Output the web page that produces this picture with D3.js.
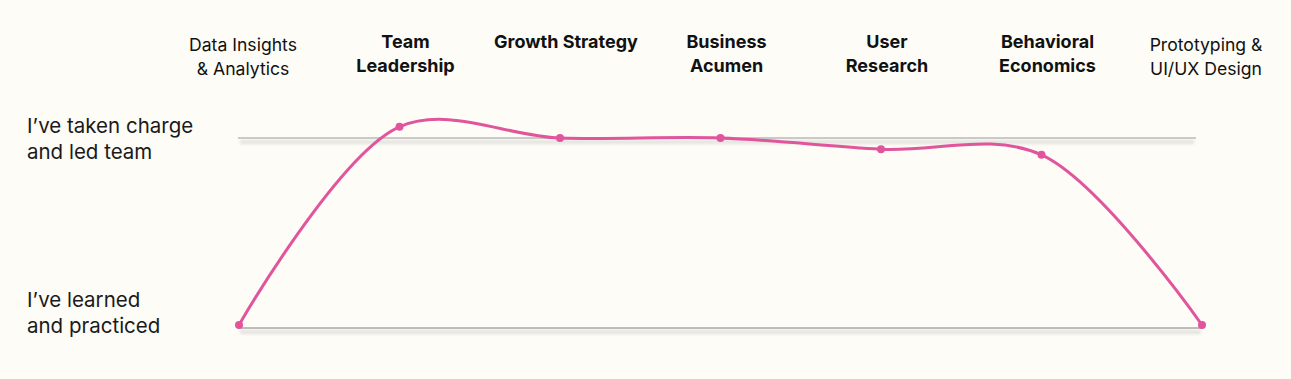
<!DOCTYPE html>
<html>
<head>
<meta charset="utf-8">
<script src="https://cdn.jsdelivr.net/npm/d3@7/dist/d3.min.js"></script>
<style>
  html, body { margin: 0; padding: 0; background: #fdfcf7; }
  svg { display: block; font-family: Inter, "Noto Sans", sans-serif; }
</style>
</head>
<body>
<div id="container"></div>
<script>
// skills along the path
const skills = [
    ["Data Insights", "& Analytics"],
    ["Team", "Leadership"],
    ["Growth Strategy"],
    ["Business", "Acumen"],
    ["User", "Research"],
    ["Behavioral", "Economics"],
    ["Prototyping &", "UI/UX Design"]
]
const boldSkill = [false, true, true, true, true, true, false]
// 0 = learned and practiced, 1 = taken charge and led team
const level = [0, 1.06, 1.0, 1.0, 0.94, 0.91, 0]
const levelLabels = [
    {value: 1, lines: ["I\u2019ve taken charge", "and led team"]},
    {value: 0, lines: ["I\u2019ve learned", "and practiced"]}
]

main()

function main() {
    const width = 1291
    const height = 379

    const x = d3.scalePoint()
        .domain(d3.range(skills.length))
        .range([239, 1202])

    const y = d3.scaleLinear()
        .domain([0, 1])
        .range([325, 138])

    const svg = d3.create("svg")
        .attr("width", width)
        .attr("height", height)

    // soft blur for the shadow under the guide lines
    svg.append("defs").append("filter")
        .attr("id", "blur")
        .attr("filterUnits", "userSpaceOnUse")
        .attr("x", 0).attr("y", 0).attr("width", width).attr("height", height)
        .append("feGaussianBlur")
        .attr("stdDeviation", 1.8)

    const guides = [
        {y: y(1), x2: 1196, color: "#999999", w: 1},
        {y: y(0) + 3, x2: 1203, color: "#a8a8a8", w: 1.5}
    ]
    guides.forEach((g) => {
        svg.append("line")
            .attr("x1", 240).attr("x2", g.x2 - 2)
            .attr("y1", g.y + 4).attr("y2", g.y + 4)
            .attr("stroke", "#000").attr("stroke-opacity", 0.1)
            .attr("stroke-width", 4)
            .attr("filter", "url(#blur)")
        svg.append("line")
            .attr("x1", 238).attr("x2", g.x2)
            .attr("y1", g.y).attr("y2", g.y)
            .attr("stroke", g.color).attr("stroke-width", g.w)
    })

    // level labels on the left
    levelLabels.forEach((d, k) => {
        const t = svg.append("text")
            .attr("x", 27)
            .attr("y", y(d.value) + (k === 0 ? -5 : -18))
            .attr("font-size", 20.5)
            .attr("fill", "#1a1a1a")
        d.lines.forEach((line, i) => {
            t.append("tspan")
                .attr("x", 27)
                .attr("dy", i === 0 ? 0 : 25.5)
                .text(line)
        })
    })

    // skill labels on top (sit a little right of their points)
    skills.forEach((lines, i) => {
        const lx = x(i) + (boldSkill[i] ? 6 : 4)
        const t = svg.append("text")
            .attr("x", lx)
            .attr("y", boldSkill[i] ? 48 : 51)
            .attr("text-anchor", "middle")
            .attr("font-size", boldSkill[i] ? 18 : 17.6)
            .attr("font-weight", boldSkill[i] ? 700 : 400)
            .attr("fill", "#111")
        lines.forEach((line, j) => {
            t.append("tspan")
                .attr("x", lx)
                .attr("dy", j === 0 ? 0 : 24)
                .text(line)
        })
    })

    const data = level.map((v, i) => ({index: i, value: v}))

    const line = d3.line()
        .x(d => x(d.index))
        .y(d => y(d.value))
        .curve(d3.curveCatmullRom.alpha(0.5))

    svg.append("path")
        .datum(data)
        .attr("fill", "none")
        .attr("stroke", "#e0559b")
        .attr("stroke-width", 3)
        .attr("d", line)

    svg.selectAll("circle")
        .data(data)
        .enter()
        .append("circle")
        .attr("cx", d => x(d.index))
        .attr("cy", d => y(d.value))
        .attr("r", 4)
        .attr("fill", "#e0559b")

    container.append(svg.node())
}
</script>
</body>
</html>
